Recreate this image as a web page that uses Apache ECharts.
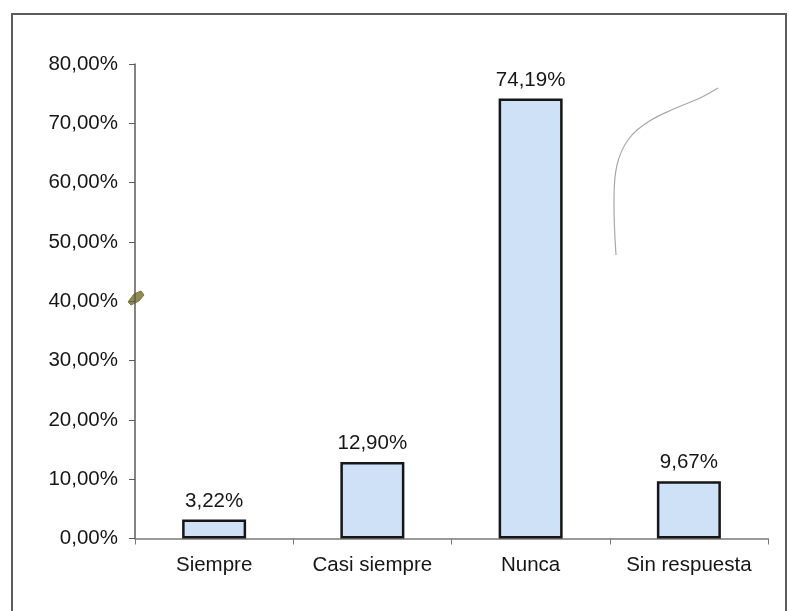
<!DOCTYPE html>
<html>
<head>
<meta charset="utf-8">
<script src="https://cdn.jsdelivr.net/npm/echarts@6/dist/echarts.min.js"></script>
<style>
  html, body { margin: 0; padding: 0; background: #ffffff; }
  #chart { width: 789px; height: 611px; }
</style>
</head>
<body>
<div id="chart"></div>
<script>
// Response categories and their shares (percent)
const categories = ['Siempre', 'Casi siempre', 'Nunca', 'Sin respuesta'];
const shares = [3.22, 12.90, 74.19, 9.67];
// Value axis range
const axisMin = 0;
const axisMax = 80;
const axisStep = 10;

const pct = v => v.toFixed(2).replace('.', ',') + '%';
const FONT = '"Liberation Sans", Arial, sans-serif';

const chart = echarts.init(document.getElementById('chart'), null, { renderer: 'canvas' });

chart.setOption({
  backgroundColor: '#ffffff',
  animation: false,
  grid: { left: 135, right: 21, top: 64, bottom: 72.5, containLabel: false },
  xAxis: {
    type: 'category',
    data: categories,
    axisLine: { show: true, lineStyle: { color: '#7a7a7a', width: 1.5 } },
    axisTick: { show: true, interval: 0, inside: false, length: 6, alignWithLabel: false, lineStyle: { color: '#7a7a7a' } },
    axisLabel: { interval: 0, hideOverlap: false, color: '#161616', fontFamily: FONT, fontSize: 20.5, margin: 16 },
    splitLine: { show: false }
  },
  yAxis: {
    type: 'value',
    min: axisMin,
    max: axisMax,
    interval: axisStep,
    axisLine: { show: true, lineStyle: { color: '#5a5a5a', width: 1.5 } },
    axisTick: { show: true, inside: false, length: 6, lineStyle: { color: '#5a5a5a' } },
    axisLabel: { color: '#161616', fontFamily: FONT, fontSize: 20.5, margin: 17, formatter: v => pct(v) },
    splitLine: { show: false }
  },
  series: [{
    type: 'bar',
    data: shares,
    barWidth: 64,
    itemStyle: { color: '#cfe1f7', borderColor: '#161616', borderWidth: 2.5 },
    label: {
      show: true,
      position: 'top',
      distance: 8,
      color: '#161616',
      fontFamily: FONT,
      fontSize: 20.5,
      formatter: p => pct(p.value)
    }
  }],
  graphic: [
    // frame around the chart area
    {
      type: 'rect',
      shape: { x: 12, y: 14, width: 774, height: 640 },
      style: { fill: 'none', stroke: '#5c5c5c', lineWidth: 2 },
      z: -1
    },
    // pencil stroke in the upper right
    {
      type: 'polyline',
      shape: {
        points: [[616, 255], [614, 200], [617, 165], [628, 140], [648, 122], [676, 108], [700, 98], [718, 88]],
        smooth: 0.4
      },
      style: { fill: 'none', stroke: '#a8a8a8', lineWidth: 1.2 }
    },
    // small ink mark on the value axis
    {
      type: 'polygon',
      shape: { points: [[128, 302], [134, 294], [141, 291], [144, 295], [139, 301], [131, 305]] },
      style: { fill: '#8f8a4e', stroke: '#7d7840', lineWidth: 1 }
    }
  ]
});
</script>
</body>
</html>
